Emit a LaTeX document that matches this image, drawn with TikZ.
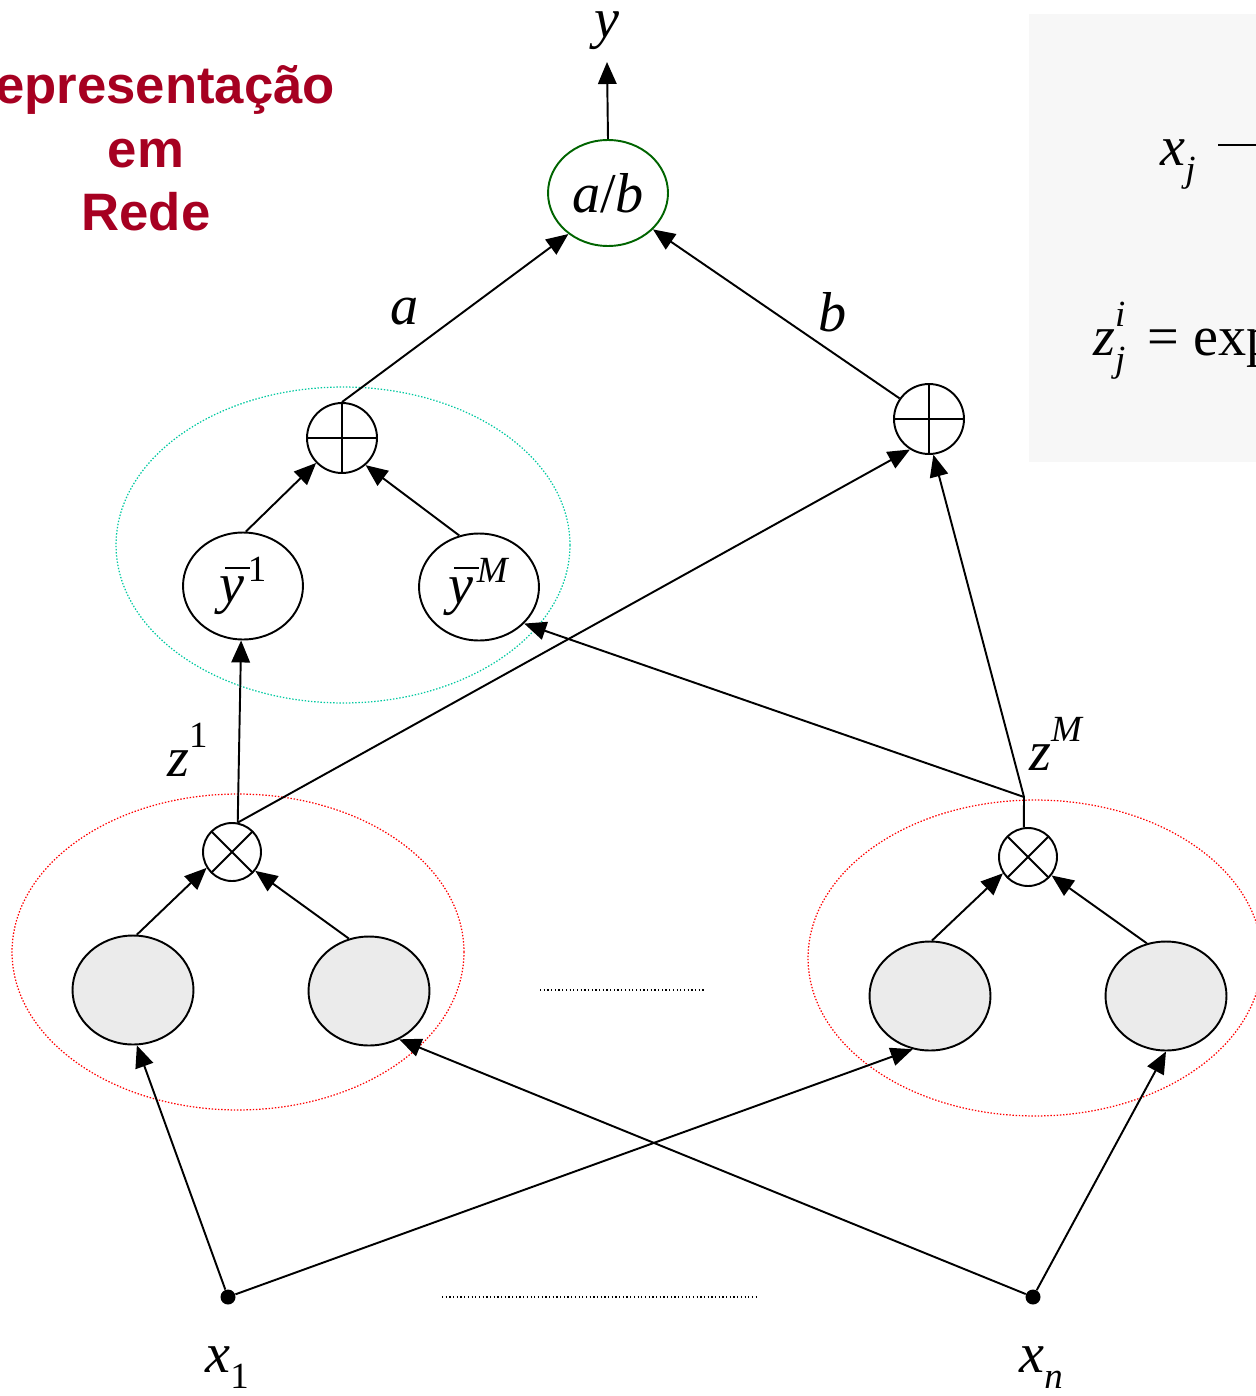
\documentclass[tikz,border=0pt]{standalone}
\usepackage{fontspec}
\setmainfont{Liberation Serif}
\newfontfamily\titlefont{Liberation Sans}
\usetikzlibrary{arrows.meta,shapes.geometric}
\definecolor{titlered}{RGB}{166,0,33}
\definecolor{dkgreen}{RGB}{0,100,0}
\definecolor{tealdot}{RGB}{0,200,160}
\definecolor{grayfill}{RGB}{235,235,235}
\definecolor{boxgray}{RGB}{247,247,247}
\newcommand\supx[1]{\raisebox{0.5em}{\fontsize{21}{21}\selectfont #1}}
\newcommand\supy[1]{\kern0.06em\raisebox{0.36em}{\fontsize{21}{21}\selectfont #1}}
\newcommand\subx[1]{\raisebox{-0.3em}{\fontsize{21}{21}\selectfont #1}}
\newcommand\ybar{\rlap{\kern0.1em\raisebox{0.6em}{\rule{0.44em}{0.035em}}}\textit{y}}
\begin{document}
\begin{tikzpicture}[x=0.02cm,y=-0.02cm,
  conn/.style={line width=1.1pt,-{Triangle[length=0.44cm,width=0.37cm]}},
  plainline/.style={line width=1.1pt},
  ynode/.style={ellipse,draw,line width=1.1pt,minimum width=2.4cm,minimum height=2.14cm,inner sep=0pt},
  hidnode/.style={ellipse,draw,line width=1.1pt,fill=grayfill,minimum width=2.42cm,minimum height=2.18cm,inner sep=0pt},
  sumnode/.style={circle,draw,line width=1.1pt,minimum size=1.4cm,inner sep=0pt,
    path picture={\draw[line width=1.1pt] (path picture bounding box.north) -- (path picture bounding box.south)
      (path picture bounding box.west) -- (path picture bounding box.east);}},
  prodnode/.style={circle,draw,line width=1.1pt,minimum size=1.16cm,inner sep=0pt,
    path picture={\draw[line width=1.1pt] (path picture bounding box.north west) -- (path picture bounding box.south east)
      (path picture bounding box.south west) -- (path picture bounding box.north east);}},
  lbl/.style={font=\fontsize{32}{32}\selectfont,inner sep=0pt},
  titletxt/.style={font=\titlefont\bfseries\fontsize{30}{36}\selectfont,text=titlered,inner sep=0pt,anchor=base},
  groupdots/.style={line width=0.7pt,dash pattern=on 0.8pt off 1.0pt},
  dotdot/.style={line width=0.7pt,dash pattern=on 0.7pt off 1.4pt},
  inpt/.style={circle,fill=black,minimum size=0.3cm,inner sep=0pt}
]
\useasboundingbox (0,0) rectangle (1256,1396);
\clip (0,0) rectangle (1256,1396);

% right formula box (cropped)
\fill[boxgray] (1029,14) rectangle (1270,462);
\node[lbl,anchor=base west] (xj) at (1160,165) {\textit{x}\subx{\textit{j}}};
\coordinate (xjend) at (1270,145);
\draw[plainline] (1218,145) -- (xjend);
\node[lbl,anchor=base west] (zij) at (1093,355) {\textit{z}\rlap{\supx{\textit{i}}}\subx{\textit{j}}};
\node[lbl,anchor=base west] (expr) at (1147,355) {= exp};

% title
\node[titletxt] (t1) at (146,103) {Representação};
\node[titletxt] (t2) at (146,167) {em};
\node[titletxt] (t3) at (146,230) {Rede};

% group ellipses
\draw[groupdots,draw=tealdot] (343,545) ellipse [x radius=4.54cm, y radius=3.16cm];
\draw[groupdots,draw=red] (238,952) ellipse [x radius=4.52cm, y radius=3.16cm];
\draw[groupdots,draw=red] (1035,958) ellipse [x radius=4.54cm, y radius=3.16cm];

% nodes
\node[lbl,anchor=base] (ylab) at (607,37) {\textit{y}};
\coordinate (yend) at (607,62);
\node[ellipse,draw=dkgreen,line width=1.1pt,minimum width=2.4cm,minimum height=2.12cm,inner sep=0pt,lbl] (ab) at (608,193) {\textit{a}/\textit{b}};
\node[sumnode] (s1) at (342,438) {};
\node[sumnode] (s2) at (929,419) {};
\node[ynode,lbl] (y1) at (243,586) {\ybar\supy{1}};
\node[ynode,lbl] (yM) at (479,587) {\ybar\supy{\textit{M}}};
\node[prodnode] (p1) at (232,852) {};
\node[prodnode] (p2) at (1028,857) {};
\coordinate (k2) at (1024,797);
\node[hidnode] (g1) at (133,990) {};
\node[hidnode] (g2) at (369,991) {};
\node[hidnode] (g3) at (930,996) {};
\node[hidnode] (g4) at (1166,996) {};
\node[inpt] (x1) at (228,1297) {};
\node[inpt] (xn) at (1033,1297) {};

% labels
\node[lbl,anchor=center] (la) at (405,312) {\textit{a}};
\node[lbl,anchor=center] (lb) at (833,312) {\textit{b}};
\node[lbl,anchor=base west] (lz1) at (167,776) {\textit{z}\supx{1}};
\node[lbl,anchor=base west] (lzM) at (1029,770) {\textit{z}\supx{\textit{M}}};
\node[lbl,anchor=base west] (lx1) at (205,1372) {\textit{x}\subx{1}};
\node[lbl,anchor=base west] (lxn) at (1019,1372) {\textit{x}\subx{\textit{n}}};

% dotted ellipsis lines
\coordinate (d1a) at (540,990); \coordinate (d1b) at (706,990);
\coordinate (d2a) at (442,1297); \coordinate (d2b) at (756,1297);
\draw[dotdot] (d1a) -- (d1b);
\draw[dotdot] (d2a) -- (d2b);

% connectors
\draw[conn] (ab.north) -- (yend);
\draw[conn] (s1.north) -- (ab.226);
\draw[conn] (s2.145) -- (ab.321);
\draw[conn] (y1.87) -- (s1.224);
\draw[conn] (yM.111) -- (s1.311);
\draw[conn] (p1.79) -- (y1.268);
\draw[conn] (p1.79) -- (s2.238);
\draw[plainline] (p2.98) -- (k2);
\draw[conn] (k2) -- (yM.321);
\draw[conn] (k2) -- (s2.277);
\draw[conn] (g1.86) -- (p1.212);
\draw[conn] (g2.111) -- (p1.321);
\draw[conn] (g3.88) -- (p2.213);
\draw[conn] (g4.110) -- (p2.322);
\draw[conn] (x1) -- (g1.274);
\draw[conn] (x1) -- (g3.252);
\draw[conn] (xn) -- (g2.302);
\draw[conn] (xn) -- (g4.270);
\end{tikzpicture}
\end{document}
